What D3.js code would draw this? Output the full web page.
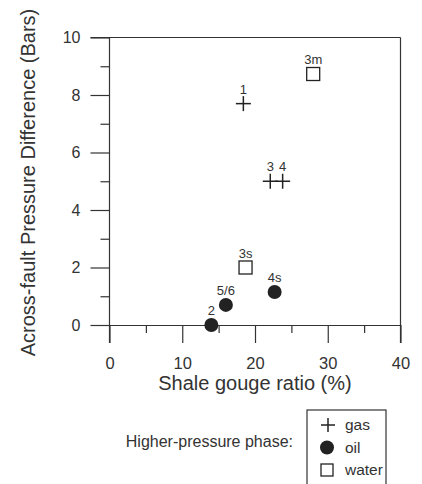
<!DOCTYPE html>
<html>
<head>
<meta charset="utf-8">
<script src="https://cdn.jsdelivr.net/npm/d3@7"></script>
<style>
  body { margin: 0; background: #fff; }
  svg { display: block; font-family: "Liberation Sans", Arial, sans-serif; }
  .axis path, .axis line { stroke: #333; stroke-width: 1.2; }
  .axis text { fill: #333; }
</style>
</head>
<body>
<div id="chart"></div>
<script>
// data
let gas = [
    {sgr: 18.4, dp: 7.7, label: "1"},
    {sgr: 22.1, dp: 5.0, label: "3"},
    {sgr: 23.8, dp: 5.0, label: "4"}
];
let oil = [
    {sgr: 14.0, dp: 0.0, label: "2"},
    {sgr: 16.0, dp: 0.7, label: "5/6"},
    {sgr: 22.7, dp: 1.15, label: "4s"}
];
let water = [
    {sgr: 28.0, dp: 8.73, label: "3m"},
    {sgr: 18.7, dp: 2.0, label: "3s"}
];
let xTicks = [0, 10, 20, 30, 40];
let xMinor = [5, 15, 25, 35];
let yTicks = [0, 2, 4, 6, 8, 10];
let yMinor = [1, 3, 5, 7, 9];
let legendItems = ["gas", "oil", "water"];

let margin = {top: 37.5, right: 21.5, bottom: 159, left: 109.5};
let width = 422 - margin.left - margin.right;
let height = 484 - margin.top - margin.bottom;

let svg = d3.select("#chart")
    .append("svg")
    .attr("width", 422)
    .attr("height", 484);

let g = svg.append("g")
    .attr("transform", "translate(" + margin.left + "," + margin.top + ")");

let x = d3.scaleLinear().domain([0, 40]).range([0, width]);
let y = d3.scaleLinear().domain([0, 10]).range([height, 0]);

// frame: top and right edges
g.append("line").attr("x1", -19).attr("x2", width).attr("y1", 0).attr("y2", 0)
    .attr("stroke", "#333").attr("stroke-width", 1.2);
g.append("line").attr("x1", width).attr("x2", width).attr("y1", 0).attr("y2", height + 18)
    .attr("stroke", "#333").attr("stroke-width", 1.2);

// y axis
let yAxis = g.append("g").attr("class", "axis")
    .call(d3.axisLeft(y).tickValues(yTicks).tickSize(19).tickSizeOuter(0).tickPadding(10))
    .style("font-size", "16px")
    .style("font-family", null);
yAxis.select(".domain").attr("d", "M0," + (height + 18) + "V0");
g.append("g").attr("class", "axis")
    .call(d3.axisLeft(y).tickValues(yMinor).tickSize(9).tickFormat(""))
    .select(".domain").remove();

// x axis
let xAxis = g.append("g").attr("class", "axis")
    .attr("transform", "translate(0," + height + ")")
    .call(d3.axisBottom(x).tickValues(xTicks).tickSize(18).tickSizeOuter(0))
    .style("font-size", "16.5px")
    .style("font-family", null);
xAxis.selectAll("text").attr("y", 44).attr("dy", 0);
g.append("g").attr("class", "axis")
    .attr("transform", "translate(0," + height + ")")
    .call(d3.axisBottom(x).tickValues(xMinor).tickSize(8).tickFormat(""))
    .select(".domain").remove();

// axis titles
svg.append("text")
    .attr("x", 255).attr("y", 390)
    .attr("text-anchor", "middle")
    .style("font-size", "20px").attr("fill", "#333")
    .text("Shale gouge ratio (%)");
svg.append("text")
    .attr("transform", "translate(35,182.5) rotate(-90)")
    .attr("text-anchor", "middle")
    .style("font-size", "20px").attr("fill", "#333")
    .text("Across-fault Pressure Difference (Bars)");

let ink = "#222";

function plus(sel, s) {
    sel.append("line").attr("x1", -s).attr("x2", s).attr("stroke", ink).attr("stroke-width", 1.5);
    sel.append("line").attr("y1", -s).attr("y2", s).attr("stroke", ink).attr("stroke-width", 1.5);
}

// gas
let gG = g.selectAll(".gas").data(gas).enter().append("g")
    .attr("class", "gas")
    .attr("transform", d => "translate(" + x(d.sgr) + "," + y(d.dp) + ")");
plus(gG, 7.5);

// oil
g.selectAll(".oil").data(oil).enter().append("circle")
    .attr("class", "oil")
    .attr("cx", d => x(d.sgr)).attr("cy", d => y(d.dp))
    .attr("r", 7).attr("fill", ink);

// water
g.selectAll(".water").data(water).enter().append("rect")
    .attr("class", "water")
    .attr("x", d => x(d.sgr) - 6.5).attr("y", d => y(d.dp) - 6.5)
    .attr("width", 13).attr("height", 13)
    .attr("fill", "#fff").attr("stroke", ink).attr("stroke-width", 1.3);

// point labels
g.selectAll(".lbl").data(gas.concat(oil, water)).enter().append("text")
    .attr("class", "lbl")
    .attr("x", d => x(d.sgr)).attr("y", d => y(d.dp) - 10)
    .attr("text-anchor", "middle")
    .style("font-size", "13px").attr("fill", "#333")
    .text(d => d.label);

// legend
svg.append("text")
    .attr("x", 293).attr("y", 446.5)
    .attr("text-anchor", "end")
    .style("font-size", "16px").attr("fill", "#333")
    .text("Higher-pressure phase:");

svg.append("rect")
    .attr("x", 307).attr("y", 410).attr("width", 79).attr("height", 90)
    .attr("fill", "#fff").attr("stroke", "#333").attr("stroke-width", 1.2);

let ly = d3.scalePoint().domain(legendItems).range([425, 470]);
plus(svg.append("g").attr("transform", "translate(328," + ly("gas") + ")"), 7);
svg.append("circle").attr("cx", 327).attr("cy", ly("oil")).attr("r", 7).attr("fill", ink);
svg.append("rect").attr("x", 321).attr("y", ly("water") - 6).attr("width", 12).attr("height", 12)
    .attr("fill", "#fff").attr("stroke", ink).attr("stroke-width", 1.3);
svg.selectAll(".leg").data(legendItems).enter().append("text")
    .attr("class", "leg")
    .attr("x", 345).attr("y", d => ly(d) + 5)
    .style("font-size", "15.5px").attr("fill", "#333")
    .text(d => d);
</script>
</body>
</html>
